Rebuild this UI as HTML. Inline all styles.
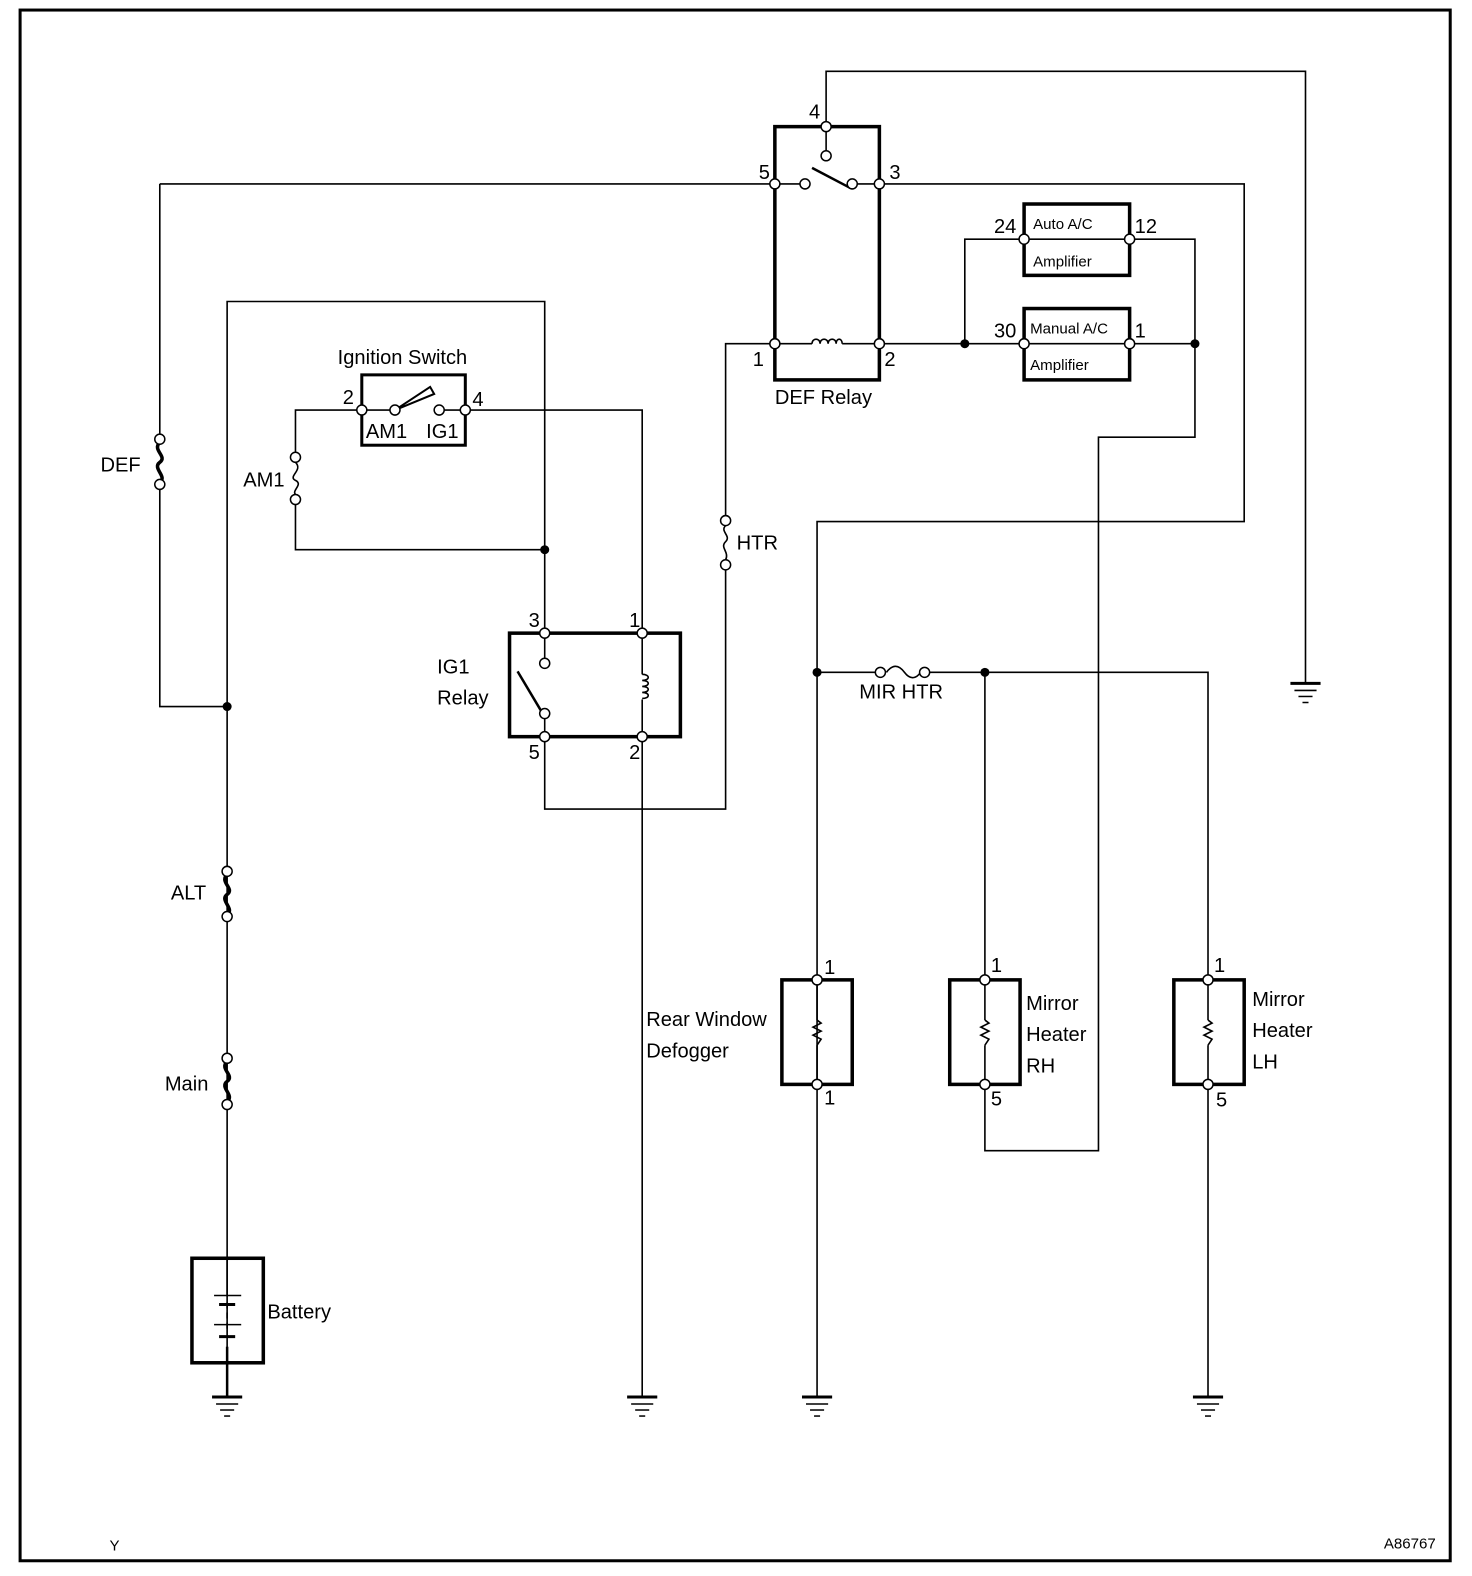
<!DOCTYPE html>
<html><head><meta charset="utf-8"><style>
html,body{margin:0;padding:0;background:#fff}
svg{display:block}
text{font-family:"Liberation Sans",sans-serif;fill:#000}
</style></head><body>
<svg width="1472" height="1576" viewBox="0 0 1472 1576" xmlns="http://www.w3.org/2000/svg">
<defs>
<g id="gnd"><line x1="-15" y1="0" x2="15" y2="0" stroke="#000" stroke-width="3"/><line x1="-11" y1="7" x2="11" y2="7" stroke="#000" stroke-width="1.5"/><line x1="-7" y1="13" x2="7" y2="13" stroke="#000" stroke-width="1.5"/><line x1="-3" y1="19" x2="3" y2="19" stroke="#000" stroke-width="1.5"/></g>
</defs>
<g transform="scale(1.005)">
<rect x="20" y="10" width="1423" height="1543" fill="none" stroke="#000" stroke-width="3"/>
<g fill="none" stroke="#000" stroke-width="1.6">
<polyline points="226,1390 226,300 542,300 542,630"/>
<polyline points="360,408 294,408 294,455"/><polyline points="294,497 294,547 542,547"/>
<polyline points="463,408 639,408 639,630"/>
<line x1="360" y1="408" x2="393" y2="408"/>
<line x1="437" y1="408" x2="463" y2="408"/>
<polyline points="542,733 542,805 722,805 722,562"/>
<polyline points="722,518 722,342 771,342"/>
<line x1="639" y1="733" x2="639" y2="1390"/>
<polyline points="159,183 771,183"/>
<polyline points="159,183 159,437"/><polyline points="159,482 159,703 226,703"/>
<polyline points="822,126 822,71 1299,71 1299,680"/>
<line x1="822" y1="126" x2="822" y2="155"/>
<line x1="771" y1="183" x2="801" y2="183"/>
<line x1="848" y1="183" x2="875" y2="183"/>
<polyline points="875,183 1238,183 1238,519 813,519 813,1390"/>
<line x1="771" y1="342" x2="808" y2="342"/><line x1="838" y1="342" x2="875" y2="342"/>
<polyline points="875,342 1019,342"/>
<polyline points="960,342 960,238 1019,238"/>
<polyline points="1124,238 1189,238 1189,435 1093,435 1093,1145 980,1145 980,1079"/>
<line x1="1124" y1="342" x2="1189" y2="342"/>
<line x1="1019" y1="238" x2="1124" y2="238"/>
<line x1="1019" y1="342" x2="1124" y2="342"/>
<line x1="813" y1="669" x2="876" y2="669"/>
<polyline points="920,669 1202,669 1202,975"/>
<line x1="980" y1="669" x2="980" y2="975"/>
<line x1="1202" y1="1079" x2="1202" y2="1390"/>
<line x1="813" y1="975" x2="813" y2="1015"/><line x1="813" y1="1040" x2="813" y2="1079"/>
<line x1="980" y1="975" x2="980" y2="1015"/><line x1="980" y1="1040" x2="980" y2="1079"/>
<line x1="1202" y1="975" x2="1202" y2="1015"/><line x1="1202" y1="1040" x2="1202" y2="1079"/>
<path d="M813,1015 l4,3 l-8,4 l8,4 l-8,4 l8,4 l-4,6"/>
<path d="M980,1015 l4,3 l-8,4 l8,4 l-8,4 l8,4 l-4,6"/>
<path d="M1202,1015 l4,3 l-8,4 l8,4 l-8,4 l8,4 l-4,6"/>
<line x1="542" y1="630" x2="542" y2="655"/>
<line x1="639" y1="630" x2="639" y2="671"/><line x1="639" y1="696" x2="639" y2="733"/>
<path d="M639,671 c8,0 8,6 0,6 c8,0 8,6 0,6 c8,0 8,6 0,6 c8,0 8,6 0,6"/>
<line x1="542" y1="715" x2="542" y2="733"/>
<path d="M808,342 c0,-6 8,-6 8,0 c0,-6 8,-6 8,0 c0,-6 8,-6 8,0 c0,-6 6,-6 6,0"/>
<line x1="226" y1="1252" x2="226" y2="1290"/>
<line x1="226" y1="1340" x2="226" y2="1390" stroke-width="2.5"/>
<line x1="226" y1="1296" x2="226" y2="1322" stroke-dasharray="6,4"/>
<path d="M294,460 c8,8 -8,14 0,18 c8,4 -4,10 0,14"/>
<path d="M722,523 c-6,6 6,10 0,16 c-6,6 4,10 0,18"/>
<path d="M882,669 c6,-8 12,-8 18,0 c6,8 12,6 16,0"/>
</g>
<g fill="none" stroke="#000" stroke-width="3.5">
<rect x="771" y="126" width="104" height="252"/>
<rect x="1019" y="203" width="105" height="71"/>
<rect x="1019" y="307" width="105" height="71"/>
<rect x="360" y="373" width="103" height="70" stroke-width="3"/>
<rect x="507" y="630" width="170" height="103"/>
<rect x="778" y="975" width="70" height="104"/>
<rect x="945" y="975" width="70" height="104"/>
<rect x="1168" y="975" width="70" height="104"/>
<rect x="191" y="1252" width="71" height="104"/>
<line x1="213" y1="1289" x2="240" y2="1289" stroke-width="1.5"/>
<line x1="218" y1="1298" x2="234" y2="1298" stroke-width="3"/>
<line x1="213" y1="1318" x2="240" y2="1318" stroke-width="1.5"/>
<line x1="218" y1="1330" x2="234" y2="1330" stroke-width="3"/>
<line x1="808" y1="167" x2="846" y2="187" stroke-width="2.5"/>
<line x1="515" y1="668" x2="540" y2="710" stroke-width="2.5"/>
<path d="M159,440 c-8,8 8,14 0,20 c-8,6 8,14 0,20"/>
<path d="M226,870 c-8,8 8,14 0,20 c-8,6 8,14 0,20"/>
<path d="M226,1056 c-8,8 8,14 0,20 c-8,6 8,14 0,20"/>
</g>
<path d="M393,408 L428,385 L432,392 Z" fill="none" stroke="#000" stroke-width="2"/>
<g fill="#fff" stroke="#000" stroke-width="1.5">
<circle cx="822" cy="126" r="5"/><circle cx="822" cy="155" r="5"/><circle cx="771" cy="183" r="5"/><circle cx="801" cy="183" r="5"/><circle cx="848" cy="183" r="5"/><circle cx="875" cy="183" r="5"/>
<circle cx="771" cy="342" r="5"/><circle cx="875" cy="342" r="5"/>
<circle cx="1019" cy="238" r="5"/><circle cx="1124" cy="238" r="5"/><circle cx="1019" cy="342" r="5"/><circle cx="1124" cy="342" r="5"/>
<circle cx="360" cy="408" r="5"/><circle cx="393" cy="408" r="5"/><circle cx="437" cy="408" r="5"/><circle cx="463" cy="408" r="5"/>
<circle cx="294" cy="455" r="5"/><circle cx="294" cy="497" r="5"/>
<circle cx="722" cy="518" r="5"/><circle cx="722" cy="562" r="5"/>
<circle cx="159" cy="437" r="5"/><circle cx="159" cy="482" r="5"/>
<circle cx="542" cy="630" r="5"/><circle cx="639" cy="630" r="5"/><circle cx="542" cy="660" r="5"/><circle cx="542" cy="710" r="5"/><circle cx="542" cy="733" r="5"/><circle cx="639" cy="733" r="5"/>
<circle cx="876" cy="669" r="5"/><circle cx="920" cy="669" r="5"/>
<circle cx="226" cy="867" r="5"/><circle cx="226" cy="912" r="5"/><circle cx="226" cy="1053" r="5"/><circle cx="226" cy="1099" r="5"/>
<circle cx="813" cy="975" r="5"/><circle cx="813" cy="1079" r="5"/><circle cx="980" cy="975" r="5"/><circle cx="980" cy="1079" r="5"/><circle cx="1202" cy="975" r="5"/><circle cx="1202" cy="1079" r="5"/>
</g>
<g fill="#000">
<circle cx="542" cy="547" r="4.5"/><circle cx="226" cy="703" r="4.5"/><circle cx="960" cy="342" r="4.5"/><circle cx="1189" cy="342" r="4.5"/><circle cx="813" cy="669" r="4.5"/><circle cx="980" cy="669" r="4.5"/>
</g>
<use href="#gnd" x="226" y="1390"/><use href="#gnd" x="639" y="1390"/><use href="#gnd" x="813" y="1390"/><use href="#gnd" x="1202" y="1390"/><use href="#gnd" x="1299" y="680"/>
<g font-size="20">
<text x="805" y="118">4</text><text x="755" y="178">5</text><text x="885" y="178">3</text>
<text x="749" y="364">1</text><text x="880" y="364">2</text>
<text x="771" y="402">DEF Relay</text>
<text x="989" y="232">24</text><text x="1129" y="232">12</text>
<text x="989" y="336">30</text><text x="1129" y="336">1</text>
<text x="336" y="362">Ignition Switch</text>
<text x="341" y="402">2</text><text x="470" y="404">4</text>
<text x="364" y="436">AM1</text><text x="424" y="436">IG1</text>
<text x="242" y="484">AM1</text>
<text x="100" y="469">DEF</text>
<text x="733" y="547">HTR</text>
<text x="526" y="624">3</text><text x="626" y="624">1</text>
<text x="526" y="755">5</text><text x="626" y="755">2</text>
<text x="435" y="670">IG1</text><text x="435" y="701">Relay</text>
<text x="855" y="695">MIR HTR</text>
<text x="170" y="895">ALT</text><text x="164" y="1085">Main</text>
<text x="266" y="1312">Battery</text>
<text x="820" y="969">1</text><text x="820" y="1099">1</text>
<text x="986" y="967">1</text><text x="986" y="1100">5</text>
<text x="1208" y="967">1</text><text x="1210" y="1101">5</text>
<text x="643" y="1021">Rear Window</text><text x="643" y="1052">Defogger</text>
<text x="1021" y="1005">Mirror</text><text x="1021" y="1036">Heater</text><text x="1021" y="1067">RH</text>
<text x="1246" y="1001">Mirror</text><text x="1246" y="1032">Heater</text><text x="1246" y="1063">LH</text>
</g>
<g font-size="15"><text x="1028" y="228">Auto A/C</text><text x="1028" y="265">Amplifier</text>
<text x="1025" y="332">Manual A/C</text><text x="1025" y="368">Amplifier</text>
<text x="109" y="1543">Y</text><text x="1377" y="1541">A86767</text></g>
</g>
</svg>
</body></html>
